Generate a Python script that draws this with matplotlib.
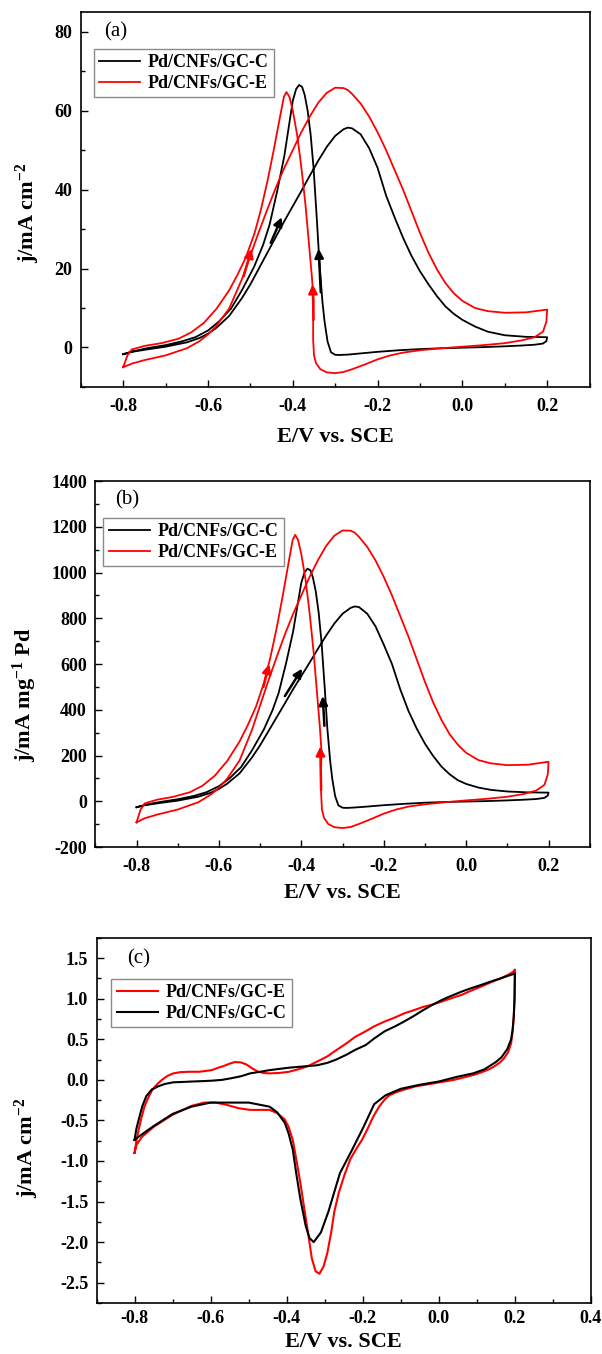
import matplotlib
matplotlib.use('Agg')
import matplotlib.pyplot as plt
from matplotlib.ticker import MultipleLocator, FormatStrFormatter

# --- Fonts (Times-like, bold) ---
plt.rcParams['font.family'] = ['Liberation Serif', 'DejaVu Serif']
plt.rcParams['font.weight'] = 'bold'
plt.rcParams['axes.labelweight'] = 'bold'
plt.rcParams['axes.unicode_minus'] = False
plt.rcParams['mathtext.fontset'] = 'custom'
plt.rcParams['mathtext.rm'] = 'Liberation Serif:bold'
plt.rcParams['mathtext.bf'] = 'Liberation Serif:bold'
plt.rcParams['mathtext.default'] = 'bf'

LABEL_C = 'Pd/CNFs/GC-C'
LABEL_E = 'Pd/CNFs/GC-E'

# --- Panel (a): j / mA cm-2, forward scan (-0.8 -> 0.2) and reverse scan ---
E_A_FWD = [-0.80, -0.78, -0.75, -0.70, -0.65, -0.62, -0.60, -0.58, -0.55, -0.52,
           -0.50, -0.48, -0.46, -0.44, -0.42, -0.40, -0.38, -0.36, -0.34, -0.32,
           -0.30, -0.28, -0.27, -0.26, -0.24, -0.22, -0.20, -0.18, -0.16, -0.14,
           -0.12, -0.10, -0.08, -0.06, -0.04, -0.02, 0.00, 0.03, 0.06, 0.10, 0.15, 0.20]
J_A_C_FWD = [-1.7, -1.1, -0.6, 0.2, 1.3, 2.4, 3.5, 5.0, 8.0, 12.5,
             16.0, 20.0, 24.0, 28.0, 32.0, 35.8, 39.6, 43.5, 47.3, 50.8,
             53.6, 55.3, 55.7, 55.5, 54.0, 50.5, 45.5, 38.5, 33.0, 27.8,
             23.2, 19.3, 16.0, 13.0, 10.4, 8.5, 7.0, 5.3, 4.0, 3.1, 2.7, 2.6]
E_A_C_REV = [0.20, 0.198, 0.19, 0.17, 0.14, 0.10, 0.05, 0.00, -0.05, -0.10,
             -0.15, -0.20, -0.24, -0.27, -0.29, -0.30, -0.31, -0.318, -0.325, -0.33,
             -0.337, -0.343, -0.351, -0.358, -0.365, -0.372, -0.378, -0.385, -0.392, -0.40,
             -0.41, -0.42, -0.437, -0.455, -0.47, -0.491, -0.52, -0.546, -0.575, -0.60,
             -0.63, -0.66, -0.70, -0.74, -0.77, -0.79, -0.80]
J_A_C_REV = [2.6, 1.6, 1.0, 0.7, 0.5, 0.3, 0.1, -0.05, -0.2, -0.4,
             -0.7, -1.1, -1.5, -1.8, -1.9, -1.85, -1.2, 1.5, 6.5, 11.5,
             21.0, 32.0, 45.5, 54.0, 60.0, 64.0, 66.0, 66.5, 65.5, 62.5,
             55.5, 48.5, 39.5, 31.0, 26.0, 20.5, 14.5, 9.8, 6.5, 4.3,
             2.6, 1.6, 0.6, -0.1, -0.8, -1.4, -1.7]
J_A_E_FWD = [-5.0, -4.1, -3.2, -2.0, -0.2, 1.6, 3.3, 5.5, 9.9, 17.3,
             23.3, 29.3, 35.0, 40.5, 45.5, 50.0, 54.5, 58.5, 62.0, 64.5,
             65.8, 65.7, 65.2, 64.2, 61.8, 58.5, 54.5, 50.0, 45.0, 40.0,
             34.5, 29.0, 24.0, 19.8, 16.3, 13.7, 11.8, 10.0, 9.2, 8.8, 8.9, 9.6]
E_A_E_REV = [0.20, 0.198, 0.19, 0.17, 0.14, 0.10, 0.05, 0.00, -0.05, -0.10,
             -0.14, -0.17, -0.20, -0.23, -0.26, -0.28, -0.30, -0.32, -0.335, -0.345,
             -0.35, -0.352, -0.352, -0.351, -0.355, -0.36, -0.365, -0.37, -0.376, -0.382,
             -0.39, -0.40, -0.408, -0.415, -0.421, -0.43, -0.445, -0.46, -0.475, -0.49,
             -0.51, -0.53, -0.55, -0.58, -0.61, -0.64, -0.67, -0.71, -0.75, -0.78,
             -0.79, -0.80]
J_A_E_REV = [9.6, 6.5, 4.0, 2.6, 1.8, 1.1, 0.6, 0.2, -0.2, -0.7,
             -1.3, -2.0, -3.0, -4.3, -5.5, -6.2, -6.5, -6.3, -5.5, -4.0,
             -2.0, 2.0, 8.0, 12.0, 18.0, 24.0, 30.0, 36.0, 42.0, 47.5,
             54.0, 60.0, 63.5, 64.7, 63.5, 58.5, 50.0, 42.0, 35.0, 29.0,
             23.0, 18.5, 14.5, 9.8, 6.2, 3.8, 2.2, 1.1, 0.4, -0.5,
             -2.0, -5.0]

# --- Panel (b): j / mA mg-1 Pd (same E grids as panel a) ---
J_B_C_FWD = [-26, -17, -9, 3, 20, 37, 54, 77, 122, 191,
             245, 306, 367, 428, 490, 548, 606, 666, 724, 777,
             820, 846, 852, 849, 820, 765, 685, 600, 490, 395,
             318, 252, 198, 152, 118, 92, 76, 60, 50, 43, 39, 38]
J_B_C_REV = [38, 25, 15, 10, 7, 4, 1, -1, -3, -6,
             -11, -17, -23, -27, -29, -28, -18, 23, 99, 176,
             321, 490, 696, 826, 918, 979, 1010, 1017, 1002, 956,
             849, 742, 604, 474, 398, 314, 222, 150, 99, 66,
             40, 24, 9, -2, -12, -21, -26]
J_B_E_FWD = [-92, -74, -58, -36, -4, 29, 59, 99, 178, 311,
             419, 527, 630, 729, 819, 900, 981, 1053, 1116, 1161,
             1184, 1183, 1174, 1156, 1112, 1053, 981, 900, 810, 720,
             621, 522, 432, 356, 293, 247, 212, 180, 166, 158, 160, 173]
J_B_E_REV = [173, 117, 72, 47, 32, 20, 11, 4, -4, -13,
             -23, -36, -54, -77, -99, -112, -117, -113, -99, -72,
             -36, 36, 144, 216, 324, 432, 540, 648, 756, 855,
             972, 1080, 1143, 1165, 1143, 1053, 900, 756, 630, 522,
             414, 333, 261, 176, 112, 68, 40, 20, 7, -9,
             -36, -92]

# --- Panel (c): j / mA cm-2, anodic (upper) and cathodic (lower) branches ---
E_C_E_UP = [-0.80, -0.795, -0.789, -0.782, -0.774, -0.763, -0.753, -0.74, -0.728, -0.713,
            -0.698, -0.68, -0.657, -0.63, -0.597, -0.58, -0.566, -0.55, -0.536, -0.52,
            -0.506, -0.49, -0.475, -0.46, -0.445, -0.42, -0.394, -0.37, -0.344, -0.32,
            -0.293, -0.27, -0.243, -0.22, -0.192, -0.17, -0.142, -0.115, -0.091, -0.065,
            -0.041, -0.015, 0.01, 0.035, 0.061, 0.085, 0.111, 0.135, 0.162, 0.18, 0.195, 0.20]
J_C_E_UP = [-0.90, -0.75, -0.61, -0.47, -0.33, -0.21, -0.12, -0.05, 0.0, 0.05,
            0.08, 0.095, 0.10, 0.10, 0.12, 0.15, 0.17, 0.20, 0.22, 0.215,
            0.19, 0.14, 0.10, 0.085, 0.08, 0.085, 0.10, 0.13, 0.17, 0.225,
            0.29, 0.365, 0.45, 0.53, 0.60, 0.66, 0.72, 0.77, 0.82, 0.86,
            0.90, 0.93, 0.97, 1.01, 1.05, 1.10, 1.15, 1.20, 1.25, 1.29, 1.33, 1.36]
E_C_E_DN = [0.20, 0.199, 0.197, 0.194, 0.19, 0.182, 0.172, 0.162, 0.147, 0.132,
            0.11, 0.091, 0.065, 0.04, 0.015, -0.01, -0.035, -0.061, -0.091, -0.111,
            -0.13, -0.142, -0.157, -0.172, -0.187, -0.202, -0.217, -0.233, -0.248, -0.263,
            -0.275, -0.283, -0.293, -0.303, -0.314, -0.324, -0.334, -0.344, -0.354, -0.364,
            -0.374, -0.384, -0.395, -0.405, -0.425, -0.445, -0.47, -0.496, -0.526, -0.556,
            -0.587, -0.617, -0.65, -0.70, -0.75, -0.78, -0.795, -0.80]
J_C_E_DN = [1.36, 1.0, 0.78, 0.6, 0.45, 0.34, 0.27, 0.22, 0.17, 0.13,
            0.09, 0.06, 0.03, 0.0, -0.02, -0.04, -0.06, -0.08, -0.12, -0.15,
            -0.19, -0.24, -0.33, -0.45, -0.6, -0.74, -0.85, -0.98, -1.17, -1.39,
            -1.63, -1.88, -2.13, -2.30, -2.39, -2.36, -2.20, -1.88, -1.58, -1.27,
            -1.0, -0.74, -0.58, -0.49, -0.41, -0.37, -0.37, -0.37, -0.35, -0.31,
            -0.28, -0.28, -0.32, -0.43, -0.58, -0.70, -0.80, -0.90]
E_C_C_UP = [-0.80, -0.795, -0.789, -0.78, -0.769, -0.755, -0.738, -0.72, -0.698, -0.67,
            -0.647, -0.62, -0.597, -0.57, -0.546, -0.52, -0.496, -0.47, -0.445, -0.42,
            -0.394, -0.37, -0.344, -0.32, -0.293, -0.27, -0.243, -0.22, -0.192, -0.17,
            -0.142, -0.115, -0.091, -0.065, -0.041, -0.015, 0.01, 0.035, 0.061, 0.085,
            0.111, 0.135, 0.162, 0.18, 0.20]
J_C_C_UP = [-0.74, -0.60, -0.49, -0.33, -0.20, -0.12, -0.08, -0.05, -0.03, -0.025,
            -0.02, -0.015, -0.01, 0.0, 0.02, 0.045, 0.08, 0.10, 0.12, 0.135,
            0.15, 0.16, 0.17, 0.18, 0.21, 0.25, 0.31, 0.37, 0.43, 0.51,
            0.60, 0.66, 0.72, 0.79, 0.86, 0.93, 0.99, 1.04, 1.09, 1.13,
            1.17, 1.21, 1.25, 1.28, 1.31]
E_C_C_DN = [0.20, 0.199, 0.197, 0.194, 0.19, 0.18, 0.165, 0.15, 0.12, 0.09,
            0.05, 0.0, -0.05, -0.10, -0.14, -0.17, -0.20, -0.23, -0.26, -0.29,
            -0.31, -0.329, -0.34, -0.35, -0.364, -0.375, -0.384, -0.395, -0.405, -0.425,
            -0.445, -0.50, -0.55, -0.60, -0.65, -0.70, -0.75, -0.78, -0.795, -0.80]
J_C_C_DN = [1.31, 1.0, 0.78, 0.62, 0.50, 0.38, 0.28, 0.22, 0.13, 0.08,
            0.04, -0.02, -0.06, -0.11, -0.19, -0.30, -0.60, -0.88, -1.15, -1.62,
            -1.88, -2.0, -1.95, -1.80, -1.47, -1.15, -0.86, -0.66, -0.53, -0.40,
            -0.33, -0.28, -0.28, -0.28, -0.33, -0.42, -0.57, -0.67, -0.72, -0.74]

# --- Scan-direction arrows: (tail, head, colour) ---
ARROWS_A = [((-0.452, 26.5), (-0.426, 33.0), 'k'), ((-0.516, 18.0), (-0.497, 25.0), 'r'),
            ((-0.334, 14.0), (-0.339, 25.0), 'k'), ((-0.351, 7.0), (-0.353, 16.0), 'r')]
ARROWS_B = [((-0.44, 460), (-0.398, 580), 'k'), ((-0.492, 500), (-0.478, 600), 'r'),
            ((-0.344, 330), (-0.348, 460), 'k'), ((-0.352, 50), (-0.354, 240), 'r')]


def style_axes(ax, xlim, ylim, ymajor, yminor, yfmt, xpad=8):
    ax.set_xlim(*xlim)
    ax.set_ylim(*ylim)
    ax.xaxis.set_major_locator(MultipleLocator(0.2))
    ax.xaxis.set_minor_locator(MultipleLocator(0.1))
    ax.yaxis.set_major_locator(MultipleLocator(ymajor))
    ax.yaxis.set_minor_locator(MultipleLocator(yminor))
    ax.xaxis.set_major_formatter(FormatStrFormatter('%.1f'))
    ax.yaxis.set_major_formatter(FormatStrFormatter(yfmt))
    ax.tick_params(which='both', direction='in', top=False, right=False, width=1.0)
    ax.tick_params(which='major', length=5, labelsize=13)
    ax.tick_params(axis='x', which='major', pad=xpad)
    ax.tick_params(axis='y', which='major', pad=6)
    ax.tick_params(which='minor', length=3)
    for s in ax.spines.values():
        s.set_linewidth(1.2)
    ax.set_xlabel('E/V vs. SCE', fontsize=16, va='center')


def add_arrows(ax, arrows):
    for tail, head, col in arrows:
        ax.annotate('', xy=head, xytext=tail,
                    arrowprops=dict(arrowstyle='-|>', color=col, lw=1.8,
                                    mutation_scale=13, shrinkA=0, shrinkB=0))


def add_legend(ax, anchor, handles):
    leg = ax.legend(handles=handles, loc='upper left', bbox_to_anchor=anchor,
                    borderaxespad=0, fancybox=False, framealpha=1, edgecolor='#8a8a8a',
                    prop={'weight': 'bold', 'size': 13}, handlelength=2.3,
                    handletextpad=0.4, borderpad=0.3, labelspacing=0.2)
    leg.get_frame().set_linewidth(1.0)


fig = plt.figure(figsize=(6.02, 13.54), dpi=100)

# --- (a) ---
ax1 = fig.add_axes([0.1342, 0.7142, 0.8452, 0.277])
hc, = ax1.plot(E_A_FWD + E_A_C_REV, J_A_C_FWD + J_A_C_REV, color='black', lw=1.3, label=LABEL_C)
he, = ax1.plot(E_A_FWD + E_A_E_REV, J_A_E_FWD + J_A_E_REV, color='red', lw=1.3, label=LABEL_E)
add_arrows(ax1, ARROWS_A)
style_axes(ax1, (-0.9, 0.3), (-10, 85), 20, 10, '%d')
ax1.set_ylabel(r'j/mA cm$^{-2}$', fontsize=16, va='center')
ax1.yaxis.set_label_coords(-0.104, 0.464)
ax1.xaxis.set_label_coords(0.5, -0.133)
ax1.text(0.046, 0.947, '(a)', transform=ax1.transAxes, fontsize=15, fontweight='normal',
         va='center', ha='left')
add_legend(ax1, (0.025, 0.901), [hc, he])

# --- (b) ---
ax2 = fig.add_axes([0.1583, 0.3744, 0.8214, 0.2703])
hc, = ax2.plot(E_A_FWD + E_A_C_REV, J_B_C_FWD + J_B_C_REV, color='black', lw=1.3, label=LABEL_C)
he, = ax2.plot(E_A_FWD + E_A_E_REV, J_B_E_FWD + J_B_E_REV, color='red', lw=1.3, label=LABEL_E)
add_arrows(ax2, ARROWS_B)
style_axes(ax2, (-0.9, 0.3), (-200, 1400), 200, 100, '%d')
ax2.set_ylabel(r'j/mA mg$^{-1}$ Pd', fontsize=16, va='center')
ax2.yaxis.set_label_coords(-0.142, 0.415)
ax2.xaxis.set_label_coords(0.5, -0.126)
ax2.text(0.04, 0.948, '(b)', transform=ax2.transAxes, fontsize=15, fontweight='normal',
         va='center', ha='left')
add_legend(ax2, (0.016, 0.899), [hc, he])

# --- (c) ---
ax3 = fig.add_axes([0.1603, 0.0377, 0.8214, 0.2696])
he, = ax3.plot(E_C_E_UP + E_C_E_DN, J_C_E_UP + J_C_E_DN, color='red', lw=1.5, label=LABEL_E)
hc, = ax3.plot(E_C_C_UP + E_C_C_DN, J_C_C_UP + J_C_C_DN, color='black', lw=1.5, label=LABEL_C)
style_axes(ax3, (-0.9, 0.4), (-2.75, 1.75), 0.5, 0.25, '%.1f', xpad=5)
ax3.set_ylabel(r'j/mA cm$^{-2}$', fontsize=16, va='center')
ax3.yaxis.set_label_coords(-0.14, 0.425)
ax3.xaxis.set_label_coords(0.5, -0.106)
ax3.text(0.062, 0.942, '(c)', transform=ax3.transAxes, fontsize=15, fontweight='normal',
         va='center', ha='left')
add_legend(ax3, (0.03, 0.888), [he, hc])

fig.savefig('out.png', dpi=100)
